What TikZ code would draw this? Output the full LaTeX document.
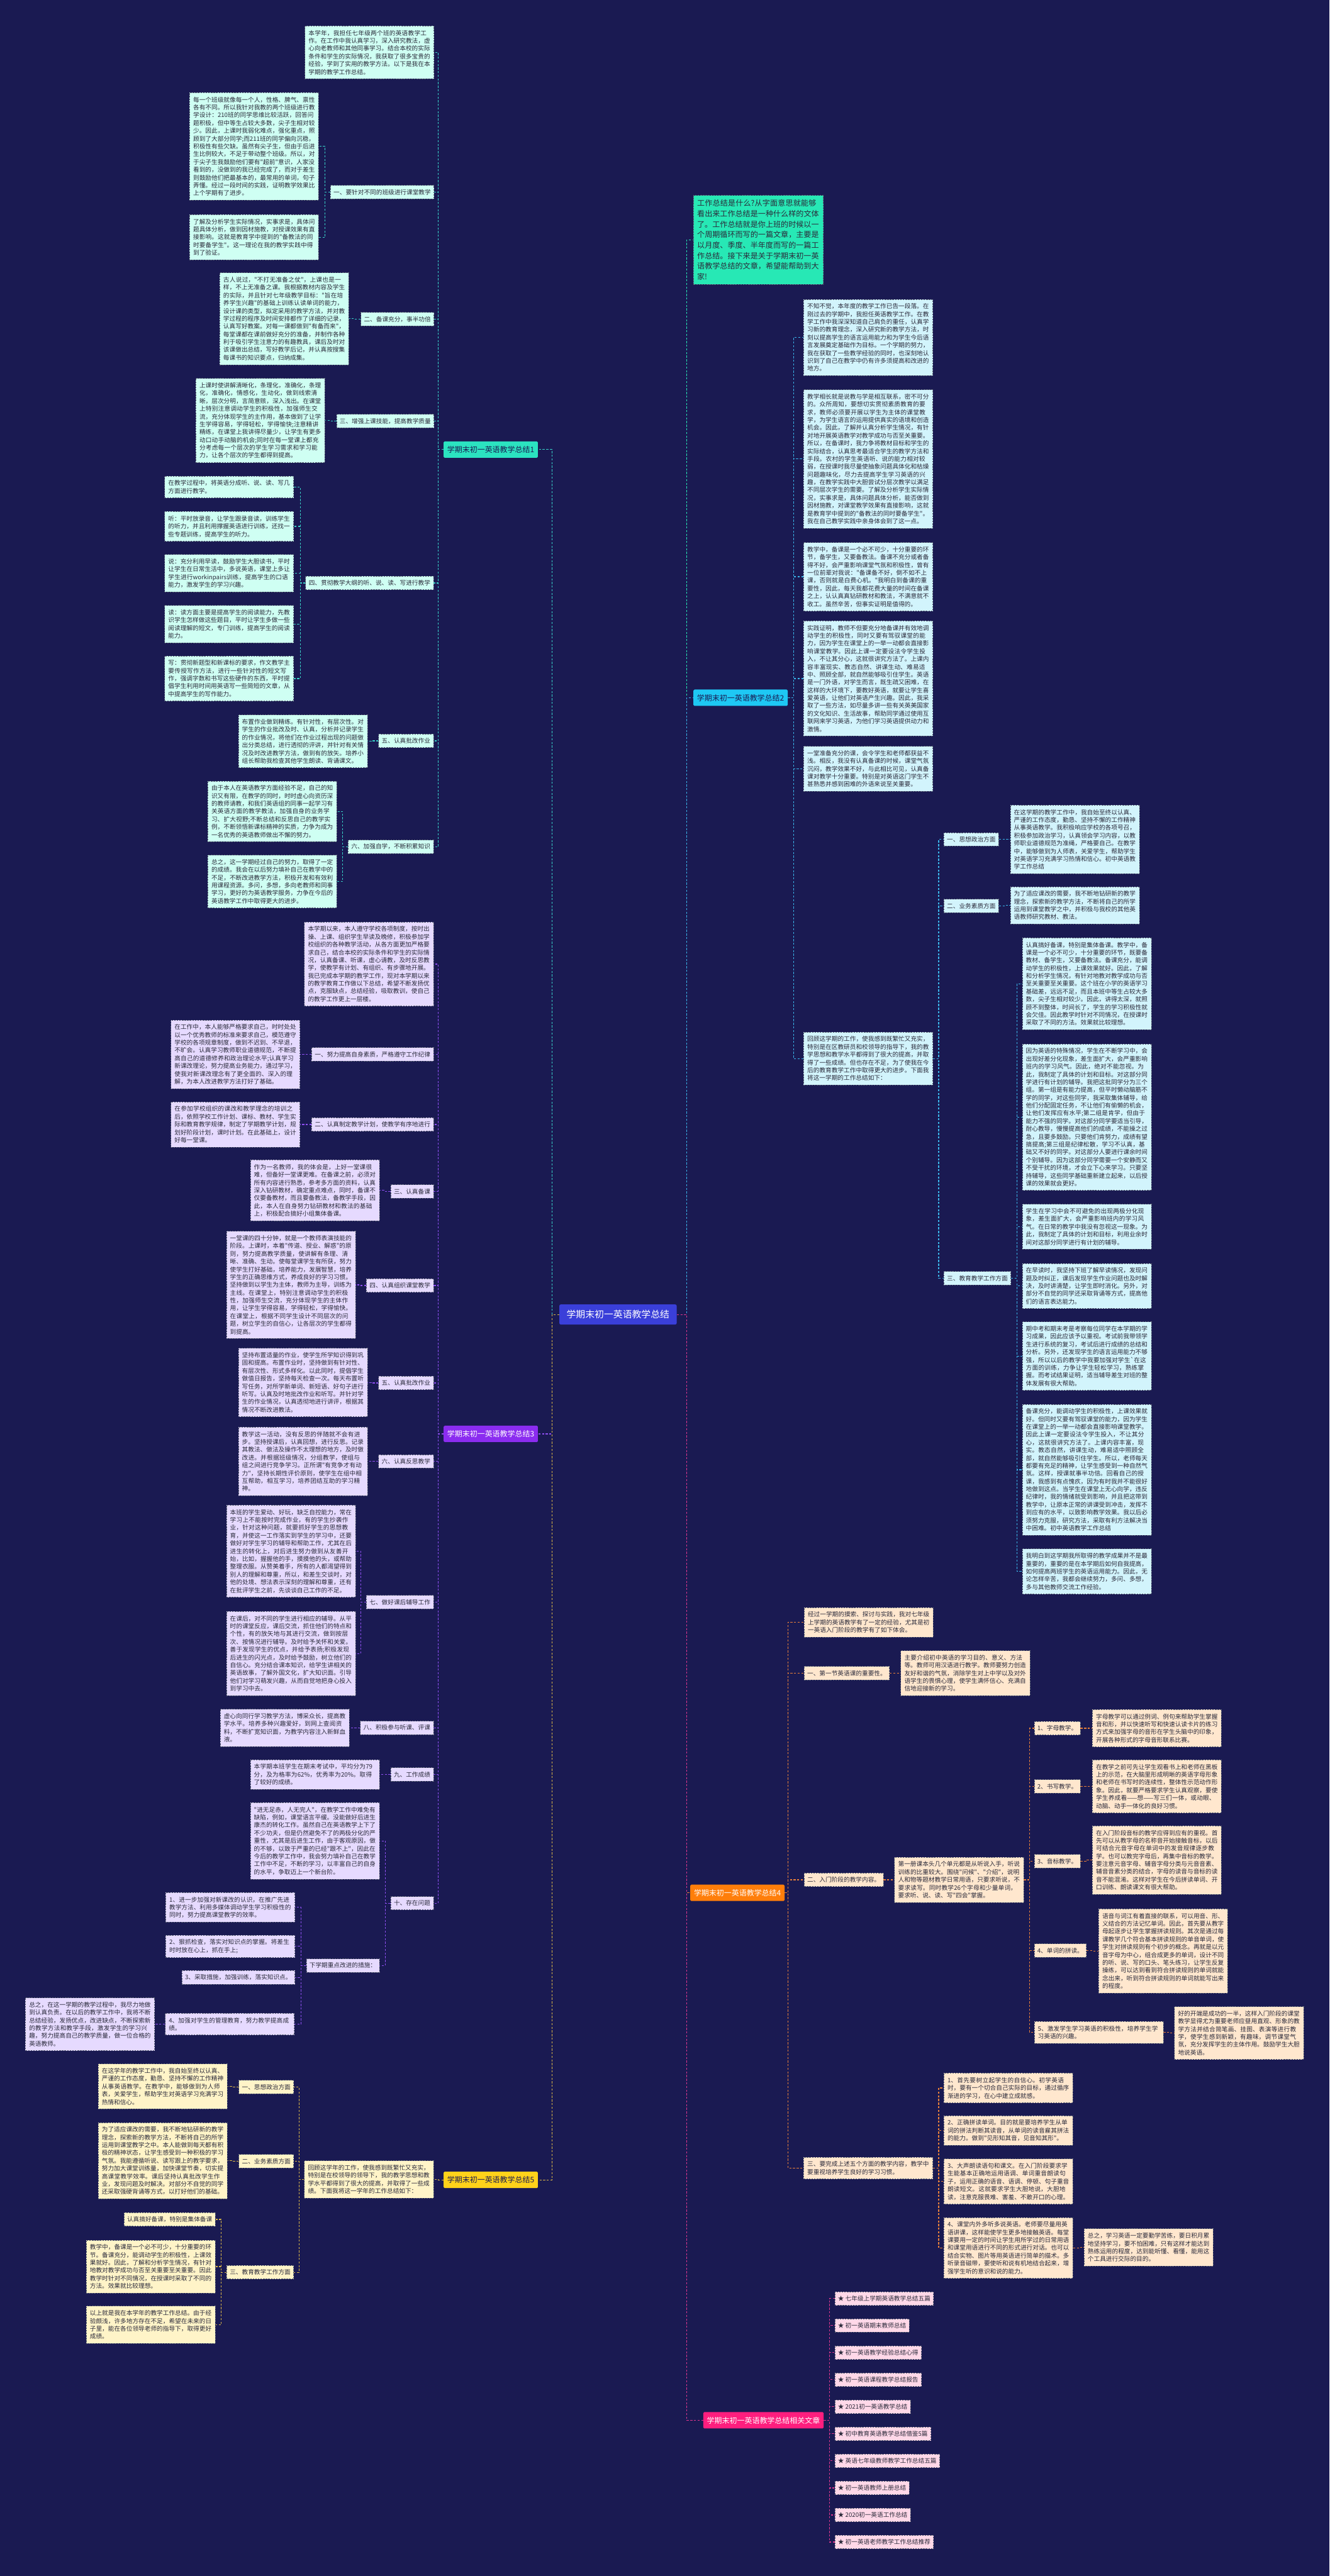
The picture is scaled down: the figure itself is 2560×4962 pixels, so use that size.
\documentclass[tikz,border=0pt]{standalone}
\usepackage{fontspec}
\newfontfamily\cjk{Noto Sans CJK SC}
\XeTeXlinebreaklocale "zh"
\XeTeXlinebreakskip = 0pt plus 1pt
\newcommand\bxfont{\cjk\fontsize{11.7}{15}\selectfont}
\newcommand\infont{\cjk\fontsize{14.6}{20.2}\selectfont}
\newcommand\lbfont{\cjk\fontsize{14.5}{17}\selectfont}
\newcommand\ctfont{\cjk\fontsize{18}{21}\selectfont}
\definecolor{bg}{HTML}{1A1A52}
\definecolor{txt}{HTML}{2A2A3A}
\definecolor{bd}{HTML}{5B6275}
\definecolor{la}{HTML}{2BE3C0}\definecolor{fa}{HTML}{CFFFF3}\definecolor{ca}{HTML}{38D1C8}
\definecolor{fi}{HTML}{27E8B5}
\definecolor{lb}{HTML}{1EC8F4}\definecolor{fb}{HTML}{D2F4FC}\definecolor{cb}{HTML}{3AB4E8}
\definecolor{lc}{HTML}{8B2CF0}\definecolor{fc}{HTML}{E6DAFF}\definecolor{cc}{HTML}{8E4FF0}
\definecolor{ld}{HTML}{FF7E0A}\definecolor{fd}{HTML}{FFE7CE}\definecolor{cd}{HTML}{E8803A}
\definecolor{le}{HTML}{FFD21A}\definecolor{fe}{HTML}{FFF4C8}\definecolor{ce}{HTML}{D9B648}
\definecolor{lf}{HTML}{FF1E7E}\definecolor{ff}{HTML}{FFD8E8}\definecolor{cf}{HTML}{E0368E}
\definecolor{ctr}{HTML}{3A3FD9}
\tikzset{
  base/.style={font=\bxfont, text=txt, inner xsep=7pt, inner ysep=8pt, align=left,
    draw=bd, dash pattern=on 3pt off 2pt, line width=0.9pt},
  bw/.style={text width=234.5pt},
  lv/.style={base, inner xsep=6pt, inner ysep=7.5pt},
  lab/.style={font=\lbfont, inner xsep=7pt, inner ysep=9pt, rounded corners=2pt},
  cn/.style={line width=1.5pt, dash pattern=on 4pt off 3pt},
}
\newcommand\lnk[3]{\draw[cn,#1] (#2.west) -- ++(-10,0) |- (#3.east);}
\newcommand\rnk[3]{\draw[cn,#1] (#2.east) -- ++(11,0) |- (#3.west);}
\begin{document}
\begin{tikzpicture}[x=1pt,y=-1pt]
\fill[bg] (0,0) rectangle (2560,4962);
\useasboundingbox (0,0) rectangle (2560,4962);

% ---------- centre ----------
\node[fill=ctr, text=white, font=\ctfont, inner xsep=14pt, inner ysep=11pt, rounded corners=3pt] (C) at (1190,2532) {学期末初一英语教学总结};

% ---------- intro ----------
\node[base, fill=fi, font=\infont, text width=236pt, anchor=west] (I) at (1335,462) {工作总结是什么?从字面意思就能够看出来工作总结是一种什么样的文体了。工作总结就是你上班的时候以一个周期循环而写的一篇文章，主要是以月度、季度、半年度而写的一篇工作总结。接下来是关于学期末初一英语教学总结的文章，希望能帮助到大家!};

% ---------- branch labels ----------
\node[lab, fill=la, text=bg, anchor=west] (L1) at (854,866) {学期末初一英语教学总结1};
\node[lab, fill=lb, text=bg, anchor=west] (L2) at (1335,1344) {学期末初一英语教学总结2};
\node[lab, fill=lc, text=white, anchor=west] (L3) at (854,2762) {学期末初一英语教学总结3};
\node[lab, fill=ld, text=white, anchor=west] (L4) at (1329,3646) {学期末初一英语教学总结4};
\node[lab, fill=le, text=bg, anchor=west] (L5) at (854,4199) {学期末初一英语教学总结5};
\node[lab, fill=lf, text=white, anchor=east] (L6) at (1586,4662) {学期末初一英语教学总结相关文章};

\draw[cn,ca] (C.west) -- ++(-14,0) |- (L1.east);
\draw[cn,cc] (C.west) -- ++(-14,0) |- (L3.east);
\draw[cn,ce] (C.west) -- ++(-14,0) |- (L5.east);
\draw[cn,fi] (C.east) -- ++(19,0) |- (I.west);
\draw[cn,cb] (C.east) -- ++(19,0) |- (L2.west);
\draw[cn,cd] (C.east) -- ++(19,0) |- (L4.west);
\draw[cn,cf] (C.east) -- ++(19,0) |- (L6.west);

% ================= branch 1 =================
\node[base,bw,fill=fa,anchor=east] (a0) at (836,101) {本学年，我担任七年级两个班的英语教学工作。在工作中我认真学习，深入研究教法，虚心向老教师和其他同事学习。结合本校的实际条件和学生的实际情况，我获取了很多宝贵的经验，学到了实用的教学方法。以下是我在本学期的教学工作总结。};
\node[lv,fill=fa,anchor=east] (a1) at (836,370) {一、要针对不同的班级进行课堂教学};
\node[base,bw,fill=fa,anchor=east] (a1a) at (614,282) {每一个班级就像每一个人，性格、脾气、禀性各有不同。所以我针对我教的两个班级进行教学设计：210班的同学思维比较活跃，回答问题积极，但中等生占较大多数，尖子生相对较少。因此，上课时我弱化难点，强化重点，照顾到了大部分同学;而211班的同学偏向沉稳，积极性有些欠缺。虽然有尖子生，但由于后进生比例较大，不足于带动整个班级。所以，对于尖子生我鼓励他们要有"超前"意识，人家没看到的，没做到的我已经完成了，而对于差生则鼓励他们把最基本的，最常用的单词，句子弄懂。经过一段时间的实践，证明教学效果比上个学期有了进步。};
\node[base,bw,fill=fa,anchor=east] (a1b) at (614,457) {了解及分析学生实际情况，实事求是，具体问题具体分析，做到因材施教，对授课效果有直接影响。这就是教育学中提到的"备教法的同时要备学生"。这一理论在我的教学实践中得到了验证。};
\node[lv,fill=fa,anchor=east] (a2) at (836,615) {二、备课充分，事半功倍};
\node[base,bw,fill=fa,anchor=east] (a2a) at (672,614) {古人说过，"不打无准备之仗"，上课也是一样，不上无准备之课。我根据教材内容及学生的实际，并且针对七年级教学目标："旨在培养学生兴趣"的基础上训练认读单词的能力，设计课的类型，拟定采用的教学方法，并对教学过程的程序及时间安排都作了详细的记录，认真写好教案。对每一课都做到"有备而来"，每堂课都在课前做好充分的准备，并制作各种利于吸引学生注意力的有趣教具，课后及时对该课做出总结，写好教学后记，并认真按搜集每课书的知识要点，归纳成集。};
\node[lv,fill=fa,anchor=east] (a3) at (836,811) {三、增强上课技能，提高教学质量};
\node[base,bw,fill=fa,anchor=east] (a3a) at (626,810) {上课时使讲解清晰化，条理化，准确化，条理化，准确化，情感化，生动化，做到线索清晰，层次分明，言简意赅，深入浅出。在课堂上特别注意调动学生的积极性，加强师生交流，充分体现学生的主作用，基本做到了让学生学得容易，学得轻松，学得愉快;注意精讲精练，在课堂上我讲得尽量少，让学生有更多动口动手动脑的机会;同时在每一堂课上都充分考虑每一个层次的学生学习需求和学习能力，让各个层次的学生都得到提高。};
\node[lv,fill=fa,anchor=east] (a4) at (835,1123) {四、贯彻教学大纲的听、说、读、写进行教学};
\node[base,bw,fill=fa,anchor=east] (a4a) at (566,938) {在教学过程中，将英语分成听、说、读、写几方面进行教学。};
\node[base,bw,fill=fa,anchor=east] (a4b) at (566,1014) {听：平时放录音，让学生跟录音读，训练学生的听力，并且利用撑握英语进行训练，还找一些专题训练，提高学生的听力。};
\node[base,bw,fill=fa,anchor=east] (a4c) at (566,1104) {说：充分利用早读，鼓励学生大胆读书，平时让学生在日常生活中，多说英语，课堂上多让学生进行workinpairs训练，提高学生的口语能力，激发学生的学习兴趣。};
\node[base,bw,fill=fa,anchor=east] (a4d) at (566,1202) {读：读方面主要是提高学生的阅读能力，先教识学生怎样做这些题目，平时让学生多做一些阅读理解的短文，专门训练，提高学生的阅读能力。};
\node[base,bw,fill=fa,anchor=east] (a4e) at (566,1307) {写：贯彻新题型和新课标的要求，作文教学主要传授写作方法，进行一些针对性的短文写作，强调字数和书写这些硬件的东西，平时提倡学生利用时间用英语写一些简短的文章，从中提高学生的写作能力。};
\node[lv,fill=fa,anchor=east] (a5) at (835,1427) {五、认真批改作业};
\node[base,bw,fill=fa,anchor=east] (a5a) at (708,1428) {布置作业做到精练。有针对性，有层次性。对学生的作业批改及时、认真，分析并记录学生的作业情况，将他们在作业过程出现的问题做出分类总结，进行透彻的评讲，并针对有关情况及时改进教学方法，做到有的放矢。培养小组长帮助我检查其他学生朗读、背诵课文。};
\node[lv,fill=fa,anchor=east] (a6) at (835,1631) {六、加强自学，不断积累知识};
\node[base,bw,fill=fa,anchor=east] (a6a) at (649,1563) {由于本人在英语教学方面经验不足，自己的知识又有限，在教学的同时，时时虚心向资历深的教师请教，和我们英语组的同事一起学习有关英语方面的教学教法，加强自身的业务学习、扩大视野;不断总结和反思自己的教学实例，不断领悟新课标精神的实质，力争为成为一名优秀的英语教师做出不懈的努力。};
\node[base,bw,fill=fa,anchor=east] (a6b) at (649,1698) {总之，这一学期经过自己的努力，取得了一定的成绩。我会在以后努力填补自己在教学中的不足，不断改进教学方法，积极开发和有效利用课程资源。多问，多想，多向老教师和同事学习，更好的为英语教学服务，力争在今后的英语教学工作中取得更大的进步。};
\foreach \n in {a0,a1,a2,a3,a4,a5,a6}{\lnk{ca}{L1}{\n}}
\lnk{ca}{a1}{a1a}\lnk{ca}{a1}{a1b}
\lnk{ca}{a2}{a2a}\lnk{ca}{a3}{a3a}
\foreach \n in {a4a,a4b,a4c,a4d,a4e}{\lnk{ca}{a4}{\n}}
\lnk{ca}{a5}{a5a}
\lnk{ca}{a6}{a6a}\lnk{ca}{a6}{a6b}

% ================= branch 3 =================
\node[base,bw,fill=fc,anchor=east] (c0) at (835,1857) {本学期以来，本人遵守学校各项制度，按时出操、上课、组织学生早读及晚修，积极参加学校组织的各种教学活动，从各方面更加严格要求自己，结合本校的实际条件和学生的实际情况，认真备课、听课，虚心请教，及时反思教学，使教学有计划、有组织、有步骤地开展。我已完成本学期的教学工作，现对本学期以来的教学教育工作做以下总结，希望不断发扬优点，克服缺点，总结经验，吸取教训，使自己的教学工作更上一层楼。};
\node[lv,fill=fc,anchor=east] (c1) at (835,2031) {一、努力提高自身素质，严格遵守工作纪律};
\node[base,bw,fill=fc,anchor=east] (c1a) at (578,2031) {在工作中，本人能够严格要求自己，时时处处以一个优秀教师的标准来要求自己，模范遵守学校的各项规章制度，做到不迟到、不早退，不旷会。认真学习教师职业道德规范，不断提高自己的道德修养和政治理论水平;认真学习新课改理论，努力提高业务能力，通过学习，使我对新课改理念有了更全面的、深入的理解，为本人改进教学方法打好了基础。};
\node[lv,fill=fc,anchor=east] (c2) at (835,2166) {二、认真制定教学计划，使教学有序地进行};
\node[base,bw,fill=fc,anchor=east] (c2a) at (578,2166) {在参加学校组织的课改和教学理念的培训之后，依照学校工作计划、课标、教材、学生实际和教育教学规律，制定了学期教学计划，规划好阶段计划，课时计划。在此基础上，设计好每一堂课。};
\node[lv,fill=fc,anchor=east] (c3) at (835,2295) {三、认真备课};
\node[base,bw,fill=fc,anchor=east] (c3a) at (731,2293) {作为一名教师，我的体会是，上好一堂课很难，但备好一堂课更难。在备课之前，必须对所有内容进行熟悉，参考多方面的资料，认真深入钻研教材，确定重点难点，同时，备课不仅要备教材，而且要备教法，备教学手段，因此，本人在自身努力钻研教材和教法的基础上，积极配合搞好小组集体备课。};
\node[lv,fill=fc,anchor=east] (c4) at (835,2476) {四、认真组织课堂教学};
\node[base,bw,fill=fc,anchor=east] (c4a) at (685,2475) {一堂课的四十分钟，就是一个教师表演技能的阶段。上课时，本着"传道、授业、解惑"的原则，努力提高教学质量，使讲解有条理、清晰、准确、生动。使每堂课学生有所获，努力使学生打好基础，培养能力，发展智慧，培养学生的正确思维方式，养成良好的学习习惯。坚持做到以学生为主体，教师为主导，训练为主线。在课堂上，特别注意调动学生的积极性，加强师生交流，充分体现学生的主体作用，让学生学得容易，学得轻松，学得愉快。在课堂上，根据不同学生设计不同层次的问题，树立学生的自信心，让各层次的学生都得到提高。};
\node[lv,fill=fc,anchor=east] (c5) at (835,2664) {五、认真批改作业};
\node[base,bw,fill=fc,anchor=east] (c5a) at (708,2663) {坚持布置适量的作业，使学生所学知识得到巩固和提高。布置作业时，坚持做到有针对性、有层次性、形式多样化。以此同时，提倡学生做值日报告，坚持每天检查一次。每天布置听写任务，对所学新单词、新短语、好句子进行听写。认真及时地批改作业和听写。并针对学生的作业情况，认真透彻地进行讲评，根据其情况不断改进教法。};
\node[lv,fill=fc,anchor=east] (c6) at (835,2815) {六、认真反思教学};
\node[base,bw,fill=fc,anchor=east] (c6a) at (708,2815) {教学这一活动，没有反思的伴随就不会有进步。坚持授课后，认真回想，进行反思。记录其教法、做法及操作不太理想的地方，及时做改进。并根据班级情况，分组教学，使组与组之间进行竞争学习。正所谓"有竞争才有动力"，坚持长期性评价原则，使学生在组中相互帮助，相互学习，培养团结互助的学习精神。};
\node[lv,fill=fc,anchor=east] (c7) at (835,3086) {七、做好课后辅导工作};
\node[base,bw,fill=fc,anchor=east] (c7a) at (685,2988) {本班的学生爱动、好玩，缺乏自控能力，常在学习上不能按时完成作业，有的学生抄袭作业，针对这种问题，就要抓好学生的思想教育，并使这一工作落实到学生的学习中，还要做好对学生学习的辅导和帮助工作，尤其在后进生的转化上，对后进生努力做到从友善开始，比如，握握他的手，摸摸他的头，或帮助整理衣服。从赞美着手，所有的人都渴望得到别人的理解和尊重，所以，和差生交谈时，对他的处境、想法表示深刻的理解和尊重，还有在批评学生之前，先谈谈自己工作的不足。};
\node[base,bw,fill=fc,anchor=east] (c7b) at (685,3185) {在课后，对不同的学生进行相应的辅导。从平时的课堂反应，课后交流，抓住他们的特点和个性，有的放矢地与其进行交流，做到按层次、按情况进行辅导。及时给予关怀和关爱。善于发现学生的优点，并给予表扬;积极发现后进生的闪光点，及时给予鼓励，树立他们的自信心。充分结合课本知识，给学生讲相关的英语故事，了解外国文化，扩大知识面。引导他们对学习萌发兴趣，从而自觉地把身心投入到学习中去。};
\node[lv,fill=fc,anchor=east] (c8) at (835,3328) {八、积极参与听课、评课};
\node[base,bw,fill=fc,anchor=east] (c8a) at (673,3328) {虚心向同行学习教学方法，博采众长，提高教学水平。培养多种兴趣爱好，到网上查阅资料，不断扩宽知识面，为教学内容注入新鲜血液。};
\node[lv,fill=fc,anchor=east] (c9) at (835,3418) {九、工作成绩};
\node[base,bw,fill=fc,anchor=east] (c9a) at (731,3418) {本学期本班学生在期末考试中，平均分为79分，及为格率为62\%，优秀率为20\%。取得了较好的成绩。};
\node[lv,fill=fc,anchor=east] (c10) at (835,3666) {十、存在问题};
\node[base,bw,fill=fc,anchor=east] (c10a) at (731,3546) {"进无足赤，人无完人"，在教学工作中难免有缺陷，例如，课堂语言平缓。没能做好后进生康杰的转化工作。虽然自己在英语教学上下了不少功夫，但是仍然避免不了的两极分化的严重性，尤其是后进生工作，由于客观原因，做的不够，以致于严重的已经"跟不上"，因此在今后的教学工作中，我会努力填补自己在教学工作中不足，不断的学习，以丰富自己的自身的水平，争取迈上一个新台阶。};
\node[lv,fill=fc,anchor=east] (c10b) at (731,3786) {下学期重点改进的措施：};
\node[base,bw,fill=fc,anchor=east] (k1) at (568,3674) {1、进一步加强对新课改的认识，在推广先进教学方法、利用多媒体调动学生学习积极性的同时，努力提高课堂教学的效率。};
\node[base,bw,fill=fc,anchor=east] (k2) at (568,3749) {2、狠抓检查，落实对知识点的掌握。将差生时时放在心上，抓在手上;};
\node[lv,fill=fc,anchor=east] (k3) at (568,3809) {3、采取措施，加强训练，落实知识点。};
\node[base,bw,fill=fc,anchor=east] (k4) at (567,3899) {4、加强对学生的管理教育，努力教学提高成绩。};
\node[base,bw,fill=fc,anchor=east] (k4a) at (298,3899) {总之，在这一学期的教学过程中，我尽力地做到认真负责。在以后的教学工作中，我将不断总结经验，发扬优点，改进缺点，不断探索新的教学方法和教学手段，激发学生的学习兴趣，努力提高自己的教学质量，做一位合格的英语教师。};
\foreach \n in {c0,c1,c2,c3,c4,c5,c6,c7,c8,c9,c10}{\lnk{cc}{L3}{\n}}
\lnk{cc}{c1}{c1a}\lnk{cc}{c2}{c2a}\lnk{cc}{c3}{c3a}\lnk{cc}{c4}{c4a}
\lnk{cc}{c5}{c5a}\lnk{cc}{c6}{c6a}
\lnk{cc}{c7}{c7a}\lnk{cc}{c7}{c7b}
\lnk{cc}{c8}{c8a}\lnk{cc}{c9}{c9a}
\lnk{cc}{c10}{c10a}\lnk{cc}{c10}{c10b}
\foreach \n in {k1,k2,k3,k4}{\lnk{cc}{c10b}{\n}}
\lnk{cc}{k4}{k4a}

% ================= branch 5 =================
\node[base,bw,fill=fe,anchor=east] (e0) at (835,4198) {回顾这学年的工作，使我感到既繁忙又充实，特别是在校领导的领导下，我的教学思想和教学水平都得到了很大的提高，并取得了一些成绩。下面我将这一学年的工作总结如下：};
\node[lv,fill=fe,anchor=east] (e1) at (566,4020) {一、思想政治方面};
\node[base,bw,fill=fe,anchor=east] (e1a) at (438,4019) {在这学年的教学工作中，我自始至终以认真、严谨的工作态度，勤恳、坚持不懈的工作精神从事英语教学。在教学中，能够做到为人师表，关爱学生，帮助学生对英语学习充满学习热情和信心。};
\node[lv,fill=fe,anchor=east] (e2) at (566,4163) {二、业务素质方面};
\node[base,bw,fill=fe,anchor=east] (e2a) at (438,4162) {为了适应课改的需要，我不断地钻研新的教学理念，探索新的教学方法，不断将自己的所学运用到课堂教学之中。本人能做到每天都有积极的精神状态，让学生感受到一种积极的学习气氛。我能遵循听说、读写跟上的教学要求，努力加大课堂训练量，加快课堂节奏，切实提高课堂教学效率。课后坚持认真批改学生作业，发现问题及时解决。对部分不自觉的同学还采取强硬背诵等方式，以打好他们的基础。};
\node[lv,fill=fe,anchor=east] (e3) at (566,4377) {三、教育教学工作方面};
\node[lv,fill=fe,anchor=east] (e3a) at (415,4275) {认真搞好备课，特别是集体备课};
\node[base,bw,fill=fe,anchor=east] (e3b) at (415,4366) {教学中，备课是一个必不可少，十分重要的环节。备课充分，能调动学生的积极性，上课效果就好。因此，了解和分析学生情况，有针对地教对教学成功与否至关重要至关重要。因此教学时针对不同情况，在授课时采取了不同的方法。效果就比较理想。};
\node[base,bw,fill=fe,anchor=east] (e3c) at (415,4478) {以上就是我在本学年的教学工作总结。由于经验颇浅，许多地方存在不足，希望在未来的日子里，能在各位领导老师的指导下，取得更好成绩。};
\lnk{ce}{L5}{e0}
\foreach \n in {e1,e2,e3}{\lnk{ce}{e0}{\n}}
\lnk{ce}{e1}{e1a}\lnk{ce}{e2}{e2a}
\foreach \n in {e3a,e3b,e3c}{\lnk{ce}{e3}{\n}}

% ================= branch 2 =================
\node[base,bw,fill=fb,anchor=west] (b1) at (1547,650) {不知不觉，本年度的教学工作已告一段落。在刚过去的学期中，我担任英语教学工作。在教学工作中我深深知道自己肩负的重任，认真学习新的教育理念，深入研究新的教学方法，时刻以提高学生的语言运用能力和为学生今后语言发展奠定基础作为目标。一个学期的努力，我在获取了一些教学经验的同时，也深刻地认识到了自己在教学中仍有许多须提高和改进的地方。};
\node[base,bw,fill=fb,anchor=west] (b2) at (1547,884) {教学相长就是说教与学是相互联系，密不可分的。众所周知，要想切实贯彻素质教育的要求，教师必须要开展以学生为主体的课堂教学，为学生语言的运用提供真实的语境和创造机会。因此，了解并认真分析学生情况，有针对地开展英语教学对教学成功与否至关重要。所以，在备课时，我力争将教材目标和学生的实际结合，认真思考最适合学生的教学方法和手段。农村的学生英语听、说的能力相对较弱，在授课时我尽量使抽象问题具体化和枯燥问题趣味化，尽力去提高学生学习英语的兴趣，在教学实践中大胆尝试分层次教学以满足不同层次学生的需要。了解及分析学生实际情况，实事求是，具体问题具体分析，能否做到因材施教，对课堂教学效果有直接影响，这就是教育学中提到的"备教法的同时要备学生"。我在自己教学实践中亲身体会到了这一点。};
\node[base,bw,fill=fb,anchor=west] (b3) at (1547,1111) {教学中，备课是一个必不可少，十分重要的环节，备学生，又要备教法。备课不充分或者备得不好，会严重影响课堂气氛和积极性，曾有一位前辈对我说："备课备不好，倒不如不上课，否则就是白费心机。"我明白到备课的重要性，因此，每天我都花费大量的时间在备课之上，认认真真钻研教材和教法，不满意就不收工。虽然辛苦，但事实证明是值得的。};
\node[base,bw,fill=fb,anchor=west] (b4) at (1547,1307) {实践证明，教师不但要充分地备课并有效地调动学生的积极性，同时又要有驾驭课堂的能力，因为学生在课堂上的一举一动都会直接影响课堂教学。因此上课一定要设法令学生投入，不让其分心，这就很讲究方法了。上课内容丰富现实、教态自然、讲课生动、难易适中、照顾全部，就自然能够吸引住学生。英语是一门外语，对学生而言，既生疏又困难，在这样的大环境下，要教好英语，就要让学生喜爱英语，让他们对英语产生兴趣。因此，我采取了一些方法，如尽量多讲一些有关英美国家的文化知识、生活故事，帮助同学通过使用互联网来学习英语，为他们学习英语提供动力和激情。};
\node[base,bw,fill=fb,anchor=west] (b5) at (1547,1481) {一堂准备充分的课，会令学生和老师都获益不浅。相反，我没有认真备课的时候，课堂气氛沉闷，教学效果不好，与此相比可见，认真备课对教学十分重要。特别是对英语这门学生不甚熟悉并感到困难的外语来说至关重要。};
\node[base,bw,fill=fb,anchor=west] (b6) at (1547,2039) {回顾这学期的工作，使我感到既繁忙又充实，特别是在区教研员和校领导的指导下，我的教学思想和教学水平都得到了很大的提高，并取得了一些成绩。但也存在不足，为了使我在今后的教育教学工作中取得更大的进步。下面我将这一学期的工作总结如下：};
\node[lv,fill=fb,anchor=west] (b61) at (1817,1617) {一、思想政治方面};
\node[base,bw,fill=fb,anchor=west] (b61a) at (1945,1617) {在这学期的教学工作中，我自始至终以认真、严谨的工作态度，勤恳、坚持不懈的工作精神从事英语教学。我积极响应学校的各项号召，积极参加政治学习，认真领会学习内容，以教师职业道德规范为准绳，严格要自己。在教学中，能够做到为人师表，关爱学生，帮助学生对英语学习充满学习热情和信心。初中英语教学工作总结};
\node[lv,fill=fb,anchor=west] (b62) at (1817,1745) {二、业务素质方面};
\node[base,bw,fill=fb,anchor=west] (b62a) at (1945,1744) {为了适应课改的需要，我不断地钻研新的教学理念，探索新的教学方法，不断将自己的所学运用到课堂教学之中，并积极与我校的其他英语教师研究教材、教法。};
\node[lv,fill=fb,anchor=west] (b63) at (1817,2462) {三、教育教学工作方面};
\node[base,bw,fill=fb,anchor=west] (g1) at (1968,1895) {认真搞好备课，特别是集体备课。教学中，备课是一个必不可少，十分重要的环节，既要备教材、备学生，又要备教法。备课充分，能调动学生的积极性，上课效果就好。因此，了解和分析学生情况，有针对地教对教学成功与否至关重要至关重要。这个班在小学的英语学习基础差，远远不足，而且本班中等生占较大多数，尖子生相对较少。因此，讲得太深，就照顾不到整体，时间长了，学生的学习积极性就会欠佳。因此教学时针对不同情况，在授课时采取了不同的方法。效果就比较理想。};
\node[base,bw,fill=fb,anchor=west] (g2) at (1968,2152) {因为英语的特殊情况，学生在不断学习中，会出现好差分化现象，差生面扩大，会严重影响班内的学习风气。因此，绝对不能忽视。为此，我制定了具体的计划和目标。对这部分同学进行有计划的辅导。我把这批同学分为三个组。第一组是有能力提高，但平时懒动脑筋不学的同学，对这些同学，我采取集体辅导，给他们分配固定任务，不让他们有偷懒的机会，让他们发挥应有水平;第二组是肯学，但由于能力不强的同学。对这部分同学要适当引导，耐心教导，慢慢提高他们的成绩，不能操之过急，且要多鼓励。只要他们肯努力，成绩有望搞提高;第三组是纪律松散，学习不认真，基础又不好的同学。对这部分人要进行课余时间个别辅导。因为这部分同学需要一个安静而又不受干扰的环境，才会立下心来学习。只要坚持辅导，这些同学基础重新建立起来，以后授课的效果就会更好。};
\node[base,bw,fill=fb,anchor=west] (g3) at (1968,2363) {学生在学习中会不可避免的出现两极分化现象，差生面扩大，会严重影响班内的学习风气。在日常的教学中我没有忽视这一现象。为此，我制定了具体的计划和目标，利用业余时间对这部分同学进行有计划的辅导。};
\node[base,bw,fill=fb,anchor=west] (g4) at (1968,2477) {在早读时，我坚持下班了解早读情况，发现问题及时纠正，课后发现学生作业问题也及时解决，及时讲清楚，让学生即时消化。另外，对部分不自觉的同学还采取背诵等方式，提高他们的语言表达能力。};
\node[base,bw,fill=fb,anchor=west] (g5) at (1968,2612) {期中考和期末考是考察每位同学在本学期的学习成果，因此应该予以重视。考试前我带领学生进行系统的复习，考试后进行成绩的总结和分析。另外，还发现学生的语言运用能力不够强，所以以后的教学中我要加强对学生`在这方面的训练，力争让学生轻松学习，熟练掌握。而考试结果证明，适当辅导差生对班的整体发展有很大帮助。};
\node[base,bw,fill=fb,anchor=west] (g6) at (1968,2831) {备课充分，能调动学生的积极性，上课效果就好。但同时又要有驾驭课堂的能力，因为学生在课堂上的一举一动都会直接影响课堂教学。因此上课一定要设法令学生投入，不让其分心，这就很讲究方法了。上课内容丰富，现实。教态自然，讲课生动，难易适中照顾全部，就自然能够吸引住学生。所以，老师每天都要有充足的精神，让学生感受到一种自然气氛。这样，授课就事半功倍。回看自己的授课，我感到有点愧疚，因为有时我并不能很好地做到这点。当学生在课堂上无心向学，违反纪律时，我的情绪就受到影响，并且把这带到教学中，让原本正常的讲课受到冲击，发挥不到应有的水平，以致影响教学效果。我以后必须努力克服，研究方法，采取有利方法解决当中困难。初中英语教学工作总结};
\node[base,bw,fill=fb,anchor=west] (g7) at (1968,3027) {我明白到这学期我所取得的教学成果并不是最重要的，重要的是在本学期后如何自我提高，如何提高两班学生的英语运用能力。因此，无论怎样辛苦，我都会继续努力，多问、多想，多与其他教师交流工作经验。};
\foreach \n in {b1,b2,b3,b4,b5,b6}{\rnk{cb}{L2}{\n}}
\foreach \n in {b61,b62,b63}{\rnk{cb}{b6}{\n}}
\rnk{cb}{b61}{b61a}\rnk{cb}{b62}{b62a}
\foreach \n in {g1,g2,g3,g4,g5,g6,g7}{\rnk{cb}{b63}{\n}}

% ================= branch 4 =================
\node[base,bw,fill=fd,anchor=west] (d0) at (1548,3125) {经过一学期的摸索、探讨与实践，我对七年级上学期的英语教学有了一定的经验，尤其是初一英语入门阶段的教学有了如下体会。};
\node[lv,fill=fd,anchor=west] (d1) at (1548,3223) {一、第一节英语课的重要性。};
\node[base,bw,fill=fd,anchor=west] (d1a) at (1734,3223) {主要介绍初中英语的学习目的、意义、方法等。教师可用汉语进行教学。教师要努力创造友好和谐的气氛，消除学生对上中学以及对外语学生的畏惧心理，使学生满怀信心、充满自信地迎接新的学习。};
\node[lv,fill=fd,anchor=west] (d2) at (1548,3621) {二、入门阶段的教学内容。};
\node[base,bw,fill=fd,anchor=west] (d2a) at (1722,3621) {第一册课本头几个单元都是从听说入手，听说训练的比重较大。围绕"问候"、"介绍"，说明人和物等题材教学日常用语，只要求听说，不要求读写。同时教学26个字母和少量单词，要求听、说、读、写"四会"掌握。};
\node[lv,fill=fd,anchor=west] (m1) at (1991,3329) {1、字母教学。};
\node[base,bw,fill=fd,anchor=west] (m1a) at (2103,3329) {字母教学可以通过例词、例句来帮助学生掌握音和形，并以快速听写和快速认读卡片的练习方式来加强字母的音形在学生头脑中的印象，开展各种形式的字母音形联系比赛。};
\node[lv,fill=fd,anchor=west] (m2) at (1991,3441) {2、书写教学。};
\node[base,bw,fill=fd,anchor=west] (m2a) at (2103,3441) {在教学之前可先让学生观看书上和老师在黑板上的示范，在大脑里形成明晰的英语字母形象和老师在书写时的连续性，整体性示范动作形象。因此，就要严格要求学生认真观察，要使学生养成看——想——写三们一体，或动眼、动脑、动手一体化的良好习惯。};
\node[lv,fill=fd,anchor=west] (m3) at (1991,3585) {3、音标教学。};
\node[base,bw,fill=fd,anchor=west] (m3a) at (2103,3583) {在入门阶段音标的教学应得到应有的重视。首先可以从教字母的名称音开始接触音标，以后可结合元音字母在单词中的发音规律逐步教学。也可以教完字母后，再集中音标的教学。要注意元音字母、辅音字母分类与元音音素、辅音音素分类的结合，字母的读音与音标的读音不能混淆。这样对学生在今后拼读单词、开口训练、朗读课文有很大帮助。};
\node[lv,fill=fd,anchor=west] (m4) at (1991,3757) {4、单词的拼读。};
\node[base,bw,fill=fd,anchor=west] (m4a) at (2115,3758) {语音与词江有着直接的联系，可以用音、形、义结合的方法记忆单词。因此，首先要从教字母起逐步让学生掌握拼读规则。其次是通过每课教学几个符合基本拼读规则的单音单词，使学生对拼读规则有个初步的概念。再就是以元音字母为中心，组合成更多的单词，设计不同的听、说、写的口头、笔头练习，让学生反复操练，可以达到看到符合拼读规则的单词就能念出来，听到符合拼读规则的单词就能写出来的程度。};
\node[base,bw,fill=fd,anchor=west] (m5) at (1991,3915) {5、激发学生学习英语的积极性，培养学生学习英语的兴趣。};
\node[base,bw,fill=fd,anchor=west] (m5a) at (2261,3916) {好的开端是成功的一半，这样入门阶段的课堂教学显得尤为重要老师应昼用直观、形象的教学方法并结合简笔画、挂图、表演等进行教学，使学生感到新颖，有趣味，调节课堂气氛，充分发挥学生的主体作用。鼓励学生大胆地说英语。};
\node[base,bw,fill=fd,anchor=west] (d3) at (1547,4176) {三、要完成上述五个方面的教学内容，教学中要重视培养学生良好的学习习惯。};
\node[base,bw,fill=fd,anchor=west] (n1) at (1817,4022) {1、首先要树立起学生的自信心。初学英语时，要有一个切合自己实际的目标，通过循序渐进的学习，在心中建立成就感。};
\node[base,bw,fill=fd,anchor=west] (n2) at (1817,4104) {2、正确拼读单词。目的就是要培养学生从单词的拼法判断其读音，从单词的读音雇其拼法的能力。做到"见形知其音，见音知其形"。};
\node[base,bw,fill=fd,anchor=west] (n3) at (1817,4202) {3、大声朗读语句和课文。在入门阶段要求学生能基本正确地运用语调、单词重音朗读句子，运用正确的语音、语调、停顿、句子重音朗读短文。这就要求学生大胆地说，大胆地读，注意克服畏难、害羞、不敢开口的心理。};
\node[base,bw,fill=fd,anchor=west] (n4) at (1817,4330) {4、课堂内外多听多说英语。老师要尽量用英语讲课，这样能使学生更多地接触英语。每堂课要用一定的时间让学生用所学过的日常用语和课堂用语进行不同的形式进行对话。也可以结合实物、图片等用英语进行简单的描术。多听录音磁带，要使听和说有机地结合起来，增强学生听的意识和说的能力。};
\node[base,bw,fill=fd,anchor=west] (n4a) at (2087,4329) {总之，学习英语一定要勤学苦练，要日积月累地坚持学习，要不怕困难，只有这样才能达到熟练运用的程度，达到能听懂、看懂，能用这个工具进行交际的目的。};
\foreach \n in {d0,d1,d2,d3}{\draw[cn,cd] (L4.east) -- ++(6,0) |- (\n.west);}
\rnk{cd}{d1}{d1a}\rnk{cd}{d2}{d2a}
\foreach \n in {m1,m2,m3,m4,m5}{\rnk{cd}{d2a}{\n}}
\rnk{cd}{m1}{m1a}\rnk{cd}{m2}{m2a}\rnk{cd}{m3}{m3a}\rnk{cd}{m4}{m4a}\rnk{cd}{m5}{m5a}
\foreach \n in {n1,n2,n3,n4}{\rnk{cd}{d3}{\n}}
\rnk{cd}{n4}{n4a}

% ================= branch 6 =================
\foreach \t [count=\i] in {七年级上学期英语教学总结五篇,初一英语期末教师总结,初一英语教学经验总结心得,初一英语课程教学总结报告,2021初一英语教学总结,初中教育英语教学总结借鉴5篇,英语七年级教师教学工作总结五篇,初一英语教师上册总结,2020初一英语工作总结,初一英语老师教学工作总结推荐}{
  \node[lv,fill=ff,anchor=west] (r\i) at (1607,{4427.5+52.1*(\i-1)}) {★ \t};
  \rnk{cf}{L6}{r\i}
}
\end{tikzpicture}
\end{document}
